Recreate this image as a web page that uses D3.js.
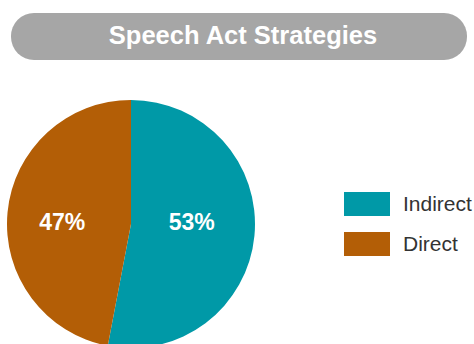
<!DOCTYPE html>
<html>
<head>
<meta charset="utf-8">
<script src="https://cdn.jsdelivr.net/npm/d3@7"></script>
<style>
  body{margin:0;background:#fff;}
  svg{display:block;font-family:"Liberation Sans",Arial,sans-serif;}
</style>
</head>
<body>
<div id="chart"></div>
<script>
const W=474,H=344;
const title="Speech Act Strategies";
const categories=["Indirect","Direct"];
const values=[53,47];
const colors=["#0099a7","#b35e06"];

const svg=d3.select("#chart").append("svg")
    .attr("width",W).attr("height",H);

// title pill
svg.append("rect")
    .attr("x",11).attr("y",13)
    .attr("width",456).attr("height",47)
    .attr("rx",23).attr("ry",23)
    .attr("fill","#a6a6a6");
svg.append("text")
    .attr("x",243).attr("y",44)
    .attr("text-anchor","middle")
    .attr("fill","#fff")
    .style("font-size","25.5px")
    .style("font-weight","bold")
    .text(title);

// pie
const r=124,cx=131,cy=224;
const data=categories.map((c,i)=>({name:c,value:values[i]}));
const pie=d3.pie().value(d=>d.value).sort(null);
const arc=d3.arc().innerRadius(0).outerRadius(r);
const labelArc=d3.arc().innerRadius(65).outerRadius(65);
const g=svg.append("g").attr("transform",`translate(${cx},${cy})`);
const arcs=pie(data);
g.selectAll("path")
    .data(arcs)
    .join("path")
    .attr("d",arc)
    .attr("fill",(d,i)=>colors[i]);
g.selectAll(".lbl")
    .data(arcs)
    .join("text")
    .attr("class","lbl")
    .attr("x",d=>labelArc.centroid(d)[0]-4)
    .attr("y",6)
    .attr("text-anchor","middle")
    .attr("fill","#fff")
    .style("font-size","23px")
    .style("font-weight","bold")
    .text(d=>d.data.value+"%");

// legend
const leg=svg.append("g").attr("transform","translate(344,192)");
const item=leg.selectAll("g")
    .data(categories)
    .join("g")
    .attr("transform",(d,i)=>`translate(0,${i*40})`);
item.append("rect")
    .attr("width",46).attr("height",24)
    .attr("fill",(d,i)=>colors[i]);
item.append("text")
    .attr("x",59).attr("y",19)
    .attr("fill","#333")
    .style("font-size","21px")
    .text(d=>d);
</script>
</body>
</html>
